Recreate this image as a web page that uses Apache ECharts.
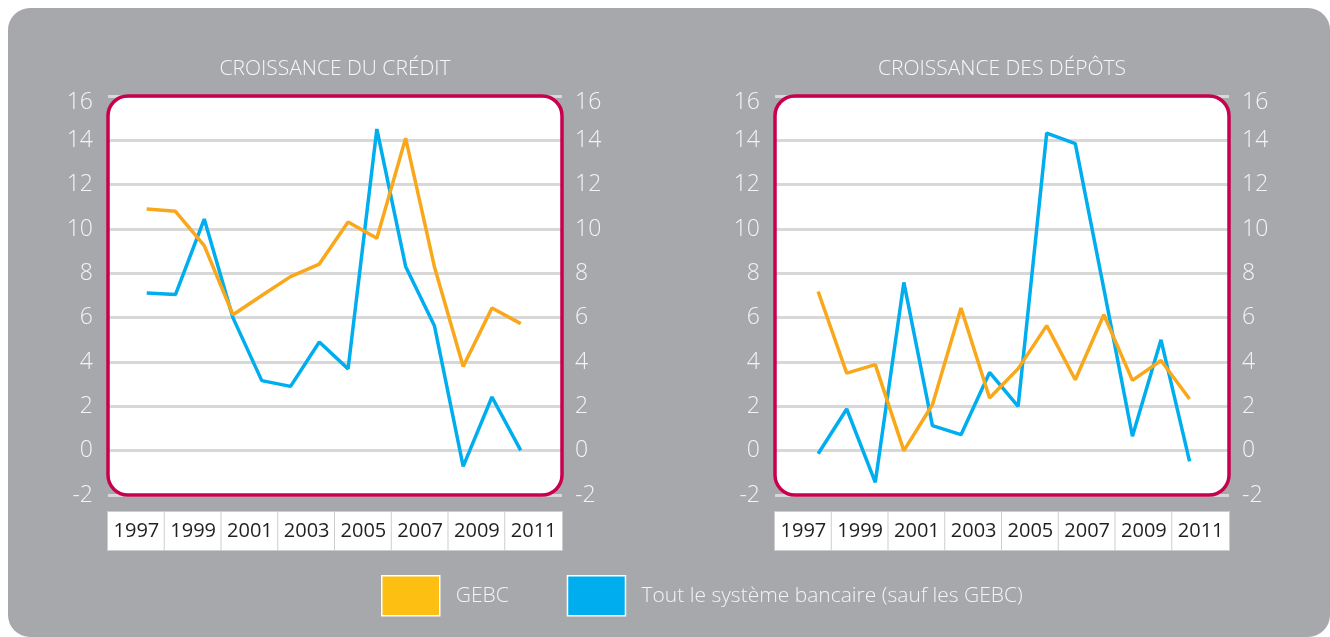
<!DOCTYPE html>
<html>
<head>
<meta charset="utf-8">
<script src="https://cdn.jsdelivr.net/npm/echarts@6/dist/echarts.min.js"></script>
<style>
  html, body { margin: 0; padding: 0; background: #ffffff; }
  #panel { position: absolute; left: 8px; top: 8px; width: 1322px; height: 629px; background: #a7a8ab; border-radius: 22px; }
  #chart { position: absolute; left: 0; top: 0; width: 1330px; height: 637px; }
</style>
</head>
<body>
<div id="panel"></div>
<div id="chart"></div>
<script>
// ---- data ----
const years = [1997, 1998, 1999, 2000, 2001, 2002, 2003, 2004, 2005, 2006, 2007, 2008, 2009, 2010];
const xTickLabels = ['1997', '1999', '2001', '2003', '2005', '2007', '2009', '2011'];
const yTicks = { min: -2, max: 16, step: 2 };
const seriesNames = ['GEBC', 'Tout le système bancaire (sauf les GEBC)'];
const chartTitles = ['CROISSANCE DU CRÉDIT', 'CROISSANCE DES DÉPÔTS'];
const creditGEBC = [10.9, 10.8, 9.25, 6.13, 7.0, 7.85, 8.42, 10.32, 9.58, 14.1, 8.3, 3.8, 6.44, 5.73];
const creditAll  = [7.11, 7.04, 10.45, 5.99, 3.16, 2.9, 4.9, 3.69, 14.51, 8.31, 5.64, -0.71, 2.42, 0.01];
const depositGEBC = [7.18, 3.5, 3.88, 0.0, 2.07, 6.44, 2.38, 3.7, 5.64, 3.2, 6.13, 3.17, 4.07, 2.33];
const depositAll  = [-0.14, 1.88, -1.43, 7.59, 1.13, 0.72, 3.53, 2.0, 14.33, 13.85, 7.3, 0.65, 5.0, -0.48];

// ---- layout / style ----
const FONT = '"Open Sans", "DejaVu Sans", sans-serif';
const ORANGE = '#f9a71b', BLUE = '#00aeef';
const LEG_ORANGE = '#fdbf12', LEG_BLUE = '#00aeef';
const CRIMSON = '#c8004f';
const grids = [
  { left: 108, top: 96, width: 454, height: 399, xMin: 1995.655, xMax: 2011.435 },
  { left: 775, top: 96, width: 454, height: 399, xMin: 1995.49, xMax: 2011.38 }
];
const pair = (vals) => years.map((y, i) => [y, vals[i]]);
const yFmt = (v) => (v === yTicks.max ? '{top|' + v + '}' : String(v));
const yRich = { top: { padding: [12, 0, 0, 0], color: '#f4f4f4', fontSize: 23, fontFamily: FONT, fontWeight: 300 } };

const xAxes = [], yAxes = [], series = [], titles = [], graphics = [];
grids.forEach((g, gi) => {
  xAxes.push({ type: 'value', gridIndex: gi, min: g.xMin, max: g.xMax, show: false });
  xAxes.push({
    type: 'category', gridIndex: gi, position: 'bottom', data: xTickLabels, boundaryGap: true,
    axisLine: { show: false }, axisTick: { show: false }, splitLine: { show: false },
    axisLabel: {
      interval: 0, margin: 17, color: '#231f20', fontSize: 20, fontFamily: FONT,
      backgroundColor: '#ffffff', borderColor: '#cdcdcd', borderWidth: 1,
      width: g.width / xTickLabels.length, height: 38, lineHeight: 38, align: 'center'
    }
  });
  const yCommon = {
    type: 'value', gridIndex: gi, min: yTicks.min, max: yTicks.max, interval: yTicks.step,
    axisLine: { show: false }, axisTick: { show: false }
  };
  yAxes.push(Object.assign({}, yCommon, {
    position: 'left',
    axisLabel: { margin: 15, color: '#f4f4f4', fontSize: 23, fontFamily: FONT, fontWeight: 300, formatter: yFmt, rich: yRich },
    splitLine: { show: true, lineStyle: { color: '#d8d8d8', width: 3 } }
  }));
  yAxes.push(Object.assign({}, yCommon, {
    position: 'right',
    axisLabel: { margin: 13, color: '#f4f4f4', fontSize: 23, fontFamily: FONT, fontWeight: 300, formatter: yFmt, rich: yRich },
    splitLine: { show: false }
  }));
  titles.push({
    text: chartTitles[gi], left: g.left + g.width / 2, top: 59, textAlign: 'center', padding: 0,
    textStyle: { color: '#f7f7f7', fontSize: 21, fontWeight: 300, fontFamily: FONT }
  });
  graphics.push({
    type: 'rect', z: -1, shape: { x: g.left, y: g.top, width: g.width, height: g.height, r: 20 },
    style: { fill: '#ffffff' }, silent: true
  });
  graphics.push({
    type: 'rect', z: 10, shape: { x: g.left, y: g.top, width: g.width, height: g.height, r: 20 },
    style: { fill: 'none', stroke: CRIMSON, lineWidth: 3.5 }, silent: true
  });
});

const dataSets = [[creditGEBC, creditAll], [depositGEBC, depositAll]];
dataSets.forEach((ds, gi) => {
  ds.forEach((vals, si) => {
    series.push({
      type: 'line', name: seriesNames[si], xAxisIndex: gi * 2, yAxisIndex: gi * 2,
      data: pair(vals), showSymbol: false, symbol: 'none', animation: false,
      lineStyle: { color: si === 0 ? ORANGE : BLUE, width: 3.5 },
      itemStyle: { color: si === 0 ? ORANGE : BLUE },
      z: si === 0 ? 3 : 2
    });
  });
});

const chart = echarts.init(document.getElementById('chart'), null, { renderer: 'canvas' });
chart.setOption({
  backgroundColor: 'transparent',
  animation: false,
  title: titles,
  grid: grids.map(g => ({ left: g.left, top: g.top, width: g.width, height: g.height, containLabel: false })),
  xAxis: xAxes,
  yAxis: yAxes,
  legend: {
    left: 381, top: 575, padding: 0, itemWidth: 58, itemHeight: 40, itemGap: 58, icon: 'rect',
    textStyle: { color: '#f4f4f4', fontSize: 21, fontFamily: FONT, fontWeight: 300, padding: [0, 0, 0, 11] },
    data: [
      { name: seriesNames[0], itemStyle: { color: LEG_ORANGE, borderColor: '#ffffff', borderWidth: 1.5 } },
      { name: seriesNames[1], itemStyle: { color: LEG_BLUE, borderColor: '#ffffff', borderWidth: 1.5 } }
    ]
  },
  graphic: graphics,
  series: series
});
</script>
</body>
</html>
